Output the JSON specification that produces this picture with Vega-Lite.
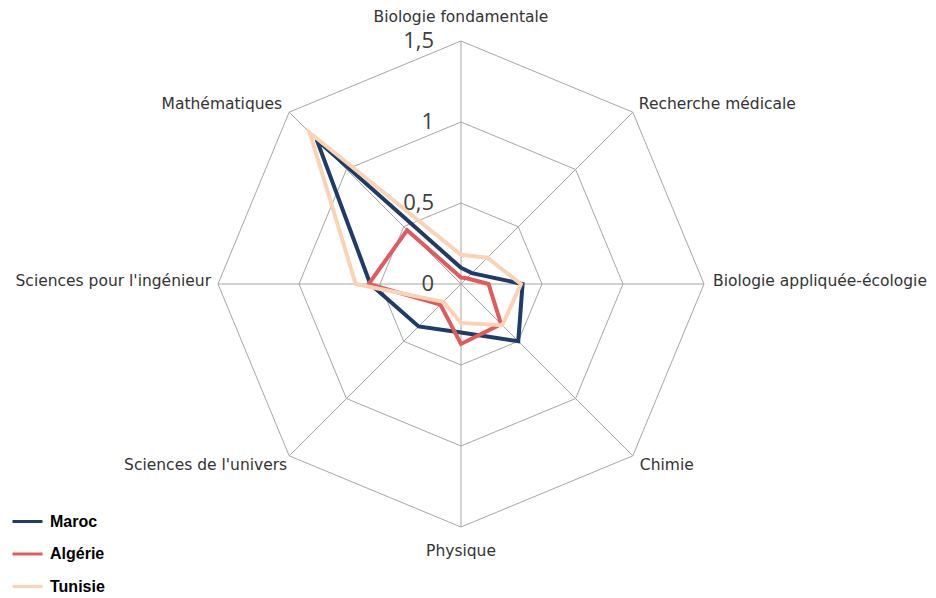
{
  "$schema": "https://vega.github.io/schema/vega-lite/v6.json",
  "width": 936,
  "height": 598,
  "autosize": {"type": "none"},
  "padding": 0,
  "background": "white",
  "config": {"view": {"stroke": null}},
  "datasets": {
    "series": [
      {"pays": "Maroc", "domaine": "Biologie fondamentale", "rang": 0, "valeur": 0.10},
      {"pays": "Maroc", "domaine": "Recherche médicale", "rang": 1, "valeur": 0.095},
      {"pays": "Maroc", "domaine": "Biologie appliquée-écologie", "rang": 2, "valeur": 0.38},
      {"pays": "Maroc", "domaine": "Chimie", "rang": 3, "valeur": 0.50},
      {"pays": "Maroc", "domaine": "Physique", "rang": 4, "valeur": 0.30},
      {"pays": "Maroc", "domaine": "Sciences de l'univers", "rang": 5, "valeur": 0.37},
      {"pays": "Maroc", "domaine": "Sciences pour l'ingénieur", "rang": 6, "valeur": 0.56},
      {"pays": "Maroc", "domaine": "Mathématiques", "rang": 7, "valeur": 1.26},
      {"pays": "Algérie", "domaine": "Biologie fondamentale", "rang": 0, "valeur": 0.04},
      {"pays": "Algérie", "domaine": "Recherche médicale", "rang": 1, "valeur": 0.05},
      {"pays": "Algérie", "domaine": "Biologie appliquée-écologie", "rang": 2, "valeur": 0.17},
      {"pays": "Algérie", "domaine": "Chimie", "rang": 3, "valeur": 0.35},
      {"pays": "Algérie", "domaine": "Physique", "rang": 4, "valeur": 0.37},
      {"pays": "Algérie", "domaine": "Sciences de l'univers", "rang": 5, "valeur": 0.18},
      {"pays": "Algérie", "domaine": "Sciences pour l'ingénieur", "rang": 6, "valeur": 0.57},
      {"pays": "Algérie", "domaine": "Mathématiques", "rang": 7, "valeur": 0.47},
      {"pays": "Tunisie", "domaine": "Biologie fondamentale", "rang": 0, "valeur": 0.18},
      {"pays": "Tunisie", "domaine": "Recherche médicale", "rang": 1, "valeur": 0.23},
      {"pays": "Tunisie", "domaine": "Biologie appliquée-écologie", "rang": 2, "valeur": 0.37},
      {"pays": "Tunisie", "domaine": "Chimie", "rang": 3, "valeur": 0.36},
      {"pays": "Tunisie", "domaine": "Physique", "rang": 4, "valeur": 0.24},
      {"pays": "Tunisie", "domaine": "Sciences de l'univers", "rang": 5, "valeur": 0.155},
      {"pays": "Tunisie", "domaine": "Sciences pour l'ingénieur", "rang": 6, "valeur": 0.65},
      {"pays": "Tunisie", "domaine": "Mathématiques", "rang": 7, "valeur": 1.32}
    ],
    "axes": [
      {"domaine": "Biologie fondamentale", "rang": 0, "max": 1.5},
      {"domaine": "Recherche médicale", "rang": 1, "max": 1.5},
      {"domaine": "Biologie appliquée-écologie", "rang": 2, "max": 1.5},
      {"domaine": "Chimie", "rang": 3, "max": 1.5},
      {"domaine": "Physique", "rang": 4, "max": 1.5},
      {"domaine": "Sciences de l'univers", "rang": 5, "max": 1.5},
      {"domaine": "Sciences pour l'ingénieur", "rang": 6, "max": 1.5},
      {"domaine": "Mathématiques", "rang": 7, "max": 1.5}
    ],
    "rings": [
      {"niveau": 0.5, "rang": 0}, {"niveau": 0.5, "rang": 1}, {"niveau": 0.5, "rang": 2}, {"niveau": 0.5, "rang": 3},
      {"niveau": 0.5, "rang": 4}, {"niveau": 0.5, "rang": 5}, {"niveau": 0.5, "rang": 6}, {"niveau": 0.5, "rang": 7},
      {"niveau": 1, "rang": 0}, {"niveau": 1, "rang": 1}, {"niveau": 1, "rang": 2}, {"niveau": 1, "rang": 3},
      {"niveau": 1, "rang": 4}, {"niveau": 1, "rang": 5}, {"niveau": 1, "rang": 6}, {"niveau": 1, "rang": 7},
      {"niveau": 1.5, "rang": 0}, {"niveau": 1.5, "rang": 1}, {"niveau": 1.5, "rang": 2}, {"niveau": 1.5, "rang": 3},
      {"niveau": 1.5, "rang": 4}, {"niveau": 1.5, "rang": 5}, {"niveau": 1.5, "rang": 6}, {"niveau": 1.5, "rang": 7}
    ],
    "ticks": [
      {"niveau": 0, "etiquette": "0"},
      {"niveau": 0.5, "etiquette": "0,5"},
      {"niveau": 1, "etiquette": "1"},
      {"niveau": 1.5, "etiquette": "1,5"}
    ]
  },
  "encoding": {
    "x": {"field": "px", "type": "quantitative", "axis": null,
          "scale": {"domain": [-2.8457, 2.9321], "nice": false, "zero": false}},
    "y": {"field": "py", "type": "quantitative", "axis": null,
          "scale": {"domain": [-1.93827, 1.75309], "nice": false, "zero": false}}
  },
  "layer": [
    {
      "data": {"name": "rings"},
      "transform": [
        {"calculate": "datum.niveau * sin(datum.rang * PI / 4)", "as": "px"},
        {"calculate": "datum.niveau * cos(datum.rang * PI / 4)", "as": "py"}
      ],
      "mark": {"type": "line", "interpolate": "linear-closed", "stroke": "#A6A6A6", "strokeWidth": 1},
      "encoding": {
        "detail": {"field": "niveau", "type": "nominal"},
        "order": {"field": "rang", "type": "quantitative"}
      }
    },
    {
      "data": {"name": "axes"},
      "transform": [
        {"calculate": "0", "as": "px"},
        {"calculate": "0", "as": "py"},
        {"calculate": "datum.max * sin(datum.rang * PI / 4)", "as": "px2"},
        {"calculate": "datum.max * cos(datum.rang * PI / 4)", "as": "py2"}
      ],
      "mark": {"type": "rule", "stroke": "#A6A6A6", "strokeWidth": 1},
      "encoding": {
        "x2": {"field": "px2"},
        "y2": {"field": "py2"}
      }
    },
    {
      "data": {"name": "series"},
      "transform": [
        {"calculate": "datum.valeur * sin(datum.rang * PI / 4)", "as": "px"},
        {"calculate": "datum.valeur * cos(datum.rang * PI / 4)", "as": "py"}
      ],
      "mark": {"type": "line", "interpolate": "linear-closed", "strokeWidth": 4, "strokeJoin": "miter"},
      "encoding": {
        "color": {
          "field": "pays", "type": "nominal",
          "scale": {"domain": ["Maroc", "Algérie", "Tunisie"], "range": ["#1F3C68", "#E05C5C", "#FBD3B4"]},
          "legend": {
            "title": null, "orient": "none", "legendX": 11, "legendY": 505,
            "symbolType": "stroke", "symbolSize": 900, "symbolStrokeWidth": 3,
            "labelFont": "Liberation Sans", "labelFontWeight": "bold", "labelFontSize": 16,
            "labelColor": "#000000", "labelOffset": 6, "rowPadding": 7.5
          }
        },
        "order": {"field": "rang", "type": "quantitative"}
      }
    },
    {
      "data": {"name": "ticks"},
      "transform": [
        {"calculate": "0", "as": "px"},
        {"calculate": "datum.niveau", "as": "py"}
      ],
      "mark": {"type": "text", "align": "right", "baseline": "middle", "dx": -27, "font": "Open Sans", "fontSize": 22, "fill": "#404040"},
      "encoding": {"text": {"field": "etiquette"}}
    },
    {
      "data": {"name": "axes"},
      "transform": [
        {"filter": "datum.rang == 0"},
        {"calculate": "datum.max * sin(datum.rang * PI / 4)", "as": "px"},
        {"calculate": "datum.max * cos(datum.rang * PI / 4)", "as": "py"}
      ],
      "mark": {"type": "text", "align": "center", "baseline": "middle", "dy": -24, "font": "DejaVu Sans", "fontSize": 15.5, "fill": "#333333"},
      "encoding": {"text": {"field": "domaine"}}
    },
    {
      "data": {"name": "axes"},
      "transform": [
        {"filter": "datum.rang == 1"},
        {"calculate": "datum.max * sin(datum.rang * PI / 4)", "as": "px"},
        {"calculate": "datum.max * cos(datum.rang * PI / 4)", "as": "py"}
      ],
      "mark": {"type": "text", "align": "left", "baseline": "middle", "dx": 6, "dy": -8, "font": "DejaVu Sans", "fontSize": 15.5, "fill": "#333333"},
      "encoding": {"text": {"field": "domaine"}}
    },
    {
      "data": {"name": "axes"},
      "transform": [
        {"filter": "datum.rang == 2"},
        {"calculate": "datum.max * sin(datum.rang * PI / 4)", "as": "px"},
        {"calculate": "datum.max * cos(datum.rang * PI / 4)", "as": "py"}
      ],
      "mark": {"type": "text", "align": "left", "baseline": "middle", "dx": 9, "dy": -3, "font": "DejaVu Sans", "fontSize": 15.5, "fill": "#333333"},
      "encoding": {"text": {"field": "domaine"}}
    },
    {
      "data": {"name": "axes"},
      "transform": [
        {"filter": "datum.rang == 3"},
        {"calculate": "datum.max * sin(datum.rang * PI / 4)", "as": "px"},
        {"calculate": "datum.max * cos(datum.rang * PI / 4)", "as": "py"}
      ],
      "mark": {"type": "text", "align": "left", "baseline": "middle", "dx": 7, "dy": 9, "font": "DejaVu Sans", "fontSize": 15.5, "fill": "#333333"},
      "encoding": {"text": {"field": "domaine"}}
    },
    {
      "data": {"name": "axes"},
      "transform": [
        {"filter": "datum.rang == 4"},
        {"calculate": "datum.max * sin(datum.rang * PI / 4)", "as": "px"},
        {"calculate": "datum.max * cos(datum.rang * PI / 4)", "as": "py"}
      ],
      "mark": {"type": "text", "align": "center", "baseline": "middle", "dy": 24, "font": "DejaVu Sans", "fontSize": 15.5, "fill": "#333333"},
      "encoding": {"text": {"field": "domaine"}}
    },
    {
      "data": {"name": "axes"},
      "transform": [
        {"filter": "datum.rang == 5"},
        {"calculate": "datum.max * sin(datum.rang * PI / 4)", "as": "px"},
        {"calculate": "datum.max * cos(datum.rang * PI / 4)", "as": "py"}
      ],
      "mark": {"type": "text", "align": "right", "baseline": "middle", "dx": -2, "dy": 9, "font": "DejaVu Sans", "fontSize": 15.5, "fill": "#333333"},
      "encoding": {"text": {"field": "domaine"}}
    },
    {
      "data": {"name": "axes"},
      "transform": [
        {"filter": "datum.rang == 6"},
        {"calculate": "datum.max * sin(datum.rang * PI / 4)", "as": "px"},
        {"calculate": "datum.max * cos(datum.rang * PI / 4)", "as": "py"}
      ],
      "mark": {"type": "text", "align": "right", "baseline": "middle", "dx": -7, "dy": -3, "font": "DejaVu Sans", "fontSize": 15.5, "fill": "#333333"},
      "encoding": {"text": {"field": "domaine"}}
    },
    {
      "data": {"name": "axes"},
      "transform": [
        {"filter": "datum.rang == 7"},
        {"calculate": "datum.max * sin(datum.rang * PI / 4)", "as": "px"},
        {"calculate": "datum.max * cos(datum.rang * PI / 4)", "as": "py"}
      ],
      "mark": {"type": "text", "align": "right", "baseline": "middle", "dx": -7, "dy": -8, "font": "DejaVu Sans", "fontSize": 15.5, "fill": "#333333"},
      "encoding": {"text": {"field": "domaine"}}
    }
  ]
}
